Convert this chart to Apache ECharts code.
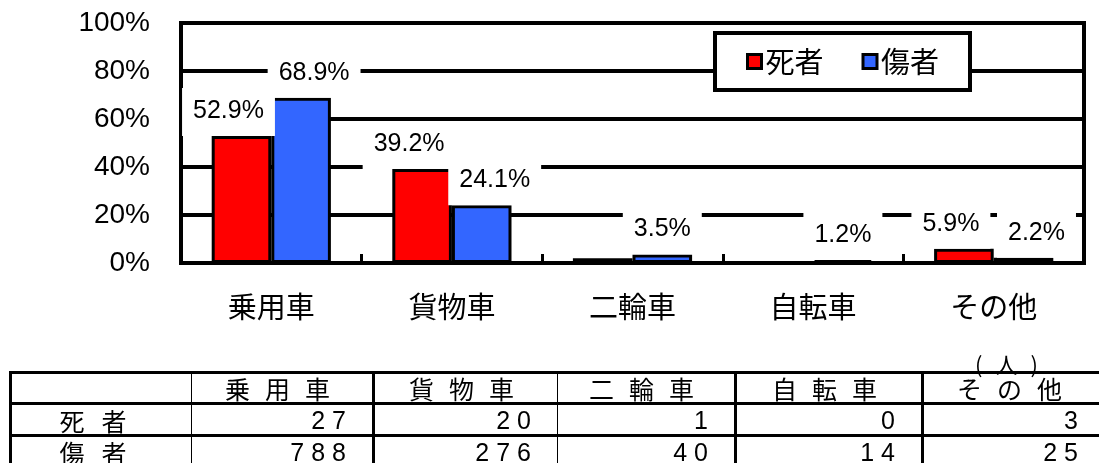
<!DOCTYPE html>
<html>
<head>
<meta charset="utf-8">
<script src="https://cdn.jsdelivr.net/npm/echarts@6/dist/echarts.min.js"></script>
<style>
  html, body { margin: 0; padding: 0; background: #fff; }
  #wrap { position: relative; width: 1099px; height: 463px; overflow: hidden; }
  #chart { position: absolute; left: 0; top: 0; width: 1099px; height: 463px; }
  #unit {
    position: absolute; left: 975px; top: 347px;
    font: 22px 'Noto Sans CJK JP', sans-serif; letter-spacing: 13px; color: #000;
  }
  #tbl {
    position: absolute; left: 9px; top: 371px;
    border-collapse: collapse; table-layout: fixed; width: 1094px;
    font-family: 'Liberation Sans', 'Noto Sans CJK JP', sans-serif; color: #000;
  }
  #tbl td {
    border: 1px solid #000; border-top-width: 3px; padding: 0;
    font-size: 25px; line-height: 26px; white-space: nowrap; overflow: hidden;
  }
  #tbl tr.h td { height: 28px; text-align: center; letter-spacing: 15px; padding-left: 6px; font-family: 'Noto Sans CJK JP', sans-serif; }
  #tbl td.lab { text-align: center; letter-spacing: 17px; padding-left: 0; font-family: 'Noto Sans CJK JP', sans-serif; }
  #tbl td.num { text-align: right; letter-spacing: 7px; padding-right: 19px; }
  #tbl td.first { border-left-width: 3px; }
  #tbl td.thick { border-left-width: 3px; }
  #tbl tr.r td { height: 29px; }
</style>
</head>
<body>
<div id="wrap">
  <div id="chart"></div>
  <div id="unit">(人)</div>
  <table id="tbl">
    <colgroup>
      <col style="width:181px"><col style="width:182px"><col style="width:184px">
      <col style="width:178px"><col style="width:187px"><col style="width:182px">
    </colgroup>
    <tbody id="tbody"></tbody>
  </table>
</div>
<script>
// 車種別 死者・傷者の構成比
var categories = ['乗用車', '貨物車', '二輪車', '自転車', 'その他']
var seriesNames = ['死者', '傷者']
var deathPct = [52.9, 39.2, 2.0, 0, 5.9]
var injuryPct = [68.9, 24.1, 3.5, 1.2, 2.2]
var deathCount = [27, 20, 1, 0, 3]
var injuryCount = [788, 276, 40, 14, 25]
var yTicks = [0, 20, 40, 60, 80, 100]
// 死者のラベルを出さない項目（元図でも表示なし）
var hiddenDeathLabels = [2, 3]

var chart = echarts.init(document.getElementById('chart'))

var numFont = "'Liberation Sans', 'Noto Sans CJK JP', sans-serif"
var jpFont = "'Noto Sans CJK JP', sans-serif"

function bothShown(i) {
  return hiddenDeathLabels.indexOf(i) < 0
}

function makeData(values, isDeath) {
  return values.map(function (v, i) {
    var item = { value: v, label: {} }
    if (isDeath && !bothShown(i)) {
      item.label.show = false
    } else if (bothShown(i)) {
      item.label.offset = [isDeath ? -13 : 13, 0]
    }
    return item
  })
}

var labelStyle = {
  show: true,
  position: 'top',
  distance: 0,
  formatter: function (p) { return p.value.toFixed(1) + '%' },
  fontFamily: numFont,
  fontSize: 25,
  lineHeight: 26,
  color: '#000',
  backgroundColor: '#fff',
  padding: [10, 11, 12, 11]
}

var option = {
  animation: false,
  grid: {
    left: 181, right: 15, top: 23, bottom: 200,
    show: true, borderColor: '#000', borderWidth: 4
  },
  legend: {
    data: seriesNames,
    left: 715, top: 33,
    orient: 'horizontal',
    backgroundColor: '#fff',
    borderColor: '#000',
    borderWidth: 4,
    borderRadius: 0,
    padding: [14, 31, 14, 31],
    itemGap: 38,
    itemWidth: 14,
    itemHeight: 14,
    icon: 'rect',
    itemStyle: { borderColor: '#000', borderWidth: 3 },
    textStyle: { fontFamily: jpFont, fontSize: 29, color: '#000', padding: [0, 0, 0, -1] }
  },
  xAxis: {
    type: 'category',
    data: categories,
    axisLine: { show: true, lineStyle: { color: '#000', width: 4 } },
    axisTick: { show: true, inside: true, length: 9, lineStyle: { color: '#000', width: 3 } },
    axisLabel: { fontFamily: jpFont, fontSize: 29, color: '#000', margin: 29 }
  },
  yAxis: {
    type: 'value',
    min: yTicks[0],
    max: yTicks[yTicks.length - 1],
    interval: yTicks[1] - yTicks[0],
    axisLine: { show: true, lineStyle: { color: '#000', width: 4 } },
    axisTick: { show: false },
    splitLine: { lineStyle: { color: '#000', width: 4 } },
    axisLabel: { formatter: '{value}%', fontFamily: numFont, fontSize: 28, color: '#000', margin: 31 }
  },
  series: [
    {
      name: seriesNames[0],
      type: 'bar',
      data: makeData(deathPct, true),
      barGap: '0%',
      barCategoryGap: '34%',
      itemStyle: { color: '#FF0000', borderColor: '#000', borderWidth: 3 },
      label: labelStyle
    },
    {
      name: seriesNames[1],
      type: 'bar',
      data: makeData(injuryPct, false),
      barGap: '0%',
      barCategoryGap: '34%',
      itemStyle: { color: '#3366FF', borderColor: '#000', borderWidth: 3 },
      label: labelStyle
    }
  ]
}
chart.setOption(option)

// 人数の表
var tbody = document.getElementById('tbody')
var html = '<tr class="h"><td class="first"></td>'
categories.forEach(function (c, i) {
  html += '<td' + (i === 1 || i === 3 || i === 4 ? ' class="thick"' : '') + '>' + c + '</td>'
})
html += '</tr>'
;[[seriesNames[0], deathCount], [seriesNames[1], injuryCount]].forEach(function (row) {
  html += '<tr class="r"><td class="first lab">' + row[0] + '</td>'
  row[1].forEach(function (v, i) {
    html += '<td class="num' + (i === 1 || i === 3 || i === 4 ? ' thick' : '') + '">' + v + '</td>'
  })
  html += '</tr>'
})
tbody.innerHTML = html
</script>
</body>
</html>
